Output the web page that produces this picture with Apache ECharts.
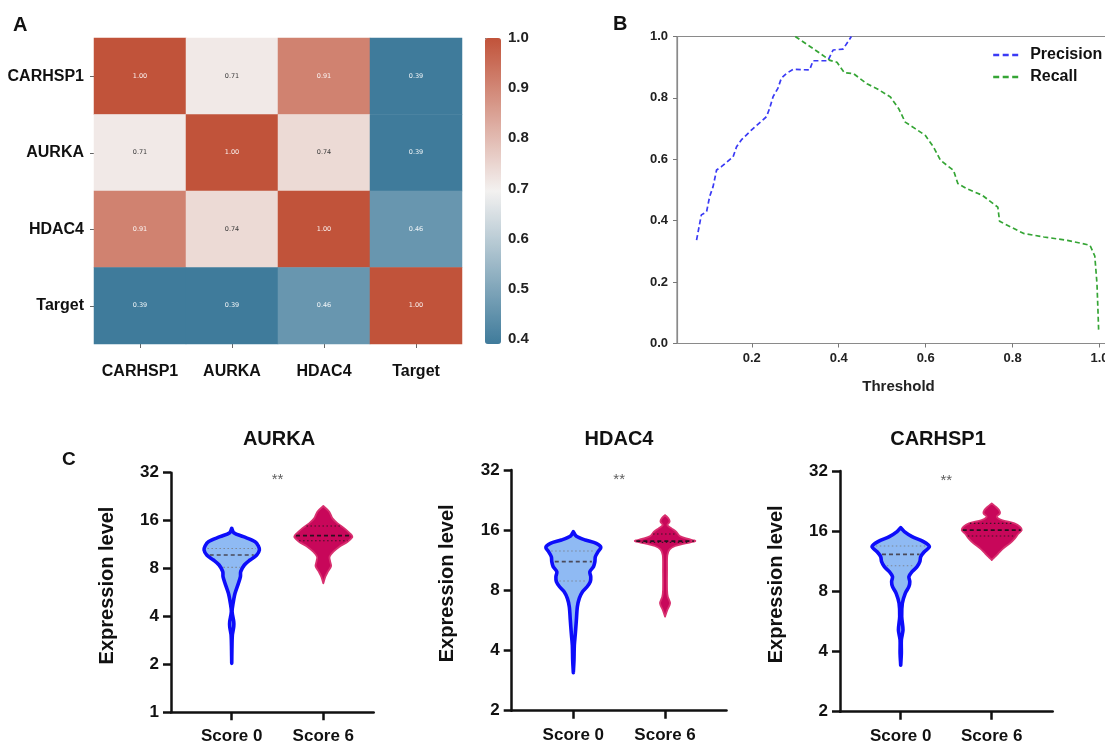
<!DOCTYPE html>
<html><head><meta charset="utf-8">
<script src="https://cdn.jsdelivr.net/npm/echarts@6/dist/echarts.min.js"></script>
<style>html,body{margin:0;padding:0;background:#fff}#c{width:1105px;height:742px}</style>
</head><body><div id="c"></div>
<script>
const FONT = '"Liberation Sans", Arial, Helvetica, sans-serif';

// ---------- Panel A : correlation heatmap ----------
const genes = ['CARHSP1', 'AURKA', 'HDAC4', 'Target'];
const corrCARHSP1 = [1.00, 0.71, 0.91, 0.39];
const corrAURKA   = [0.71, 1.00, 0.74, 0.39];
const corrHDAC4   = [0.91, 0.74, 1.00, 0.46];
const corrTarget  = [0.39, 0.39, 0.46, 1.00];
const corrRows = [corrCARHSP1, corrAURKA, corrHDAC4, corrTarget];
const colorbarTicks = [0.4, 0.5, 0.6, 0.7, 0.8, 0.9, 1.0];

// ---------- Panel B : precision / recall vs threshold ----------
const thresholdTicks = [0.2, 0.4, 0.6, 0.8, 1.0];
const precisionThr = [0.073,0.084,0.096,0.103,0.111,0.119,0.130,0.157,0.165,0.176,0.199,0.234,0.241,0.249,0.260,0.268,0.280,0.295,0.333,0.341,0.375,0.387,0.410,0.429];
const precisionVal = [0.337,0.419,0.429,0.478,0.511,0.565,0.576,0.608,0.641,0.663,0.695,0.739,0.766,0.804,0.831,0.864,0.880,0.893,0.891,0.921,0.921,0.956,0.959,1.000];
const recallThr = [0.300,0.342,0.380,0.396,0.413,0.434,0.465,0.488,0.519,0.538,0.553,0.576,0.599,0.618,0.634,0.664,0.674,0.695,0.730,0.766,0.770,0.795,0.826,0.872,0.926,0.978,0.989,0.994,0.996,0.998];
const recallVal = [1.000,0.960,0.922,0.916,0.882,0.879,0.846,0.830,0.803,0.765,0.721,0.700,0.678,0.640,0.597,0.564,0.521,0.504,0.483,0.444,0.398,0.380,0.358,0.347,0.336,0.320,0.285,0.196,0.120,0.038];

// ---------- Panel C : violin plots (expression level, density half-width) ----------
const violinGenes = ['AURKA', 'HDAC4', 'CARHSP1'];
const groups = ['Score 0', 'Score 6'];
const significance = ['**', '**', '**'];
// [level, half-width] from top to bottom
const aurkaScore0 = [[14.31,0],[13.44,0.022],[12.68,0.127],[11.80,0.255],[11.08,0.291],[10.46,0.302],[9.73,0.273],[9.05,0.200],[8.42,0.138],[7.65,0.098],[7.11,0.095],[6.46,0.073],[5.59,0.036],[4.84,0.015],[4.29,0.004],[3.71,0.022],[3.45,0.022],[3.06,0.007],[2.46,0.002],[2.03,0]];
const aurkaScore6 = [[19.77,0],[18.2,0.065],[16.53,0.10],[15.38,0.155],[14.31,0.23],[13.31,0.29],[12.68,0.318],[11.80,0.265],[10.98,0.175],[10.21,0.11],[9.50,0.068],[8.84,0.075],[8.30,0.085],[7.65,0.05],[7.11,0.022],[6.46,0]];
const hdac4Score0 = [[15.72,0],[14.96,0.03],[14.29,0.13],[13.75,0.25],[13.13,0.30],[12.49,0.27],[11.79,0.24],[11.13,0.235],[10.51,0.22],[9.92,0.18],[9.36,0.19],[8.84,0.185],[8.34,0.15],[7.88,0.10],[7.30,0.065],[6.63,0.044],[5.68,0.033],[4.87,0.022],[4.26,0.011],[3.58,0.007],[3.10,0]];
const hdac4Score6 = [[19.05,0],[18.34,0.036],[17.65,0.05],[16.98,0.025],[16.34,0.07],[15.72,0.12],[14.96,0.16],[14.46,0.25],[14.12,0.33],[13.75,0.22],[13.33,0.11],[12.83,0.05],[12.01,0.025],[10.11,0.022],[8.03,0.022],[7.44,0.03],[6.89,0.055],[6.38,0.025],[5.91,0]];
const carhsp1Score0 = [[16.66,0],[15.91,0.04],[15.02,0.125],[14.18,0.25],[13.38,0.315],[12.63,0.26],[11.93,0.22],[11.26,0.21],[10.63,0.18],[10.03,0.125],[9.47,0.09],[8.94,0.10],[8.44,0.09],[7.82,0.05],[6.97,0.018],[5.98,0.011],[5.12,0.025],[4.57,0.007],[3.92,0.007],[3.42,0]];
const carhsp1Score6 = [[22.05,0],[21.22,0.044],[20.42,0.08],[19.65,0.09],[18.91,0.055],[18.20,0.11],[17.51,0.25],[16.85,0.31],[16.21,0.33],[15.48,0.29],[14.73,0.255],[13.91,0.20],[13.13,0.128],[12.40,0.073],[11.93,0.037],[11.48,0]];
// quartiles [Q1, median, Q3]
const aurkaQuart0 = [8.14, 9.73, 10.7],   aurkaQuart6 = [11.97, 12.87, 14.8];
const hdac4Quart0 = [8.91, 11.13, 12.58], hdac4Quart6 = [13.9, 14.1, 15.3];
const carhsp1Quart0 = [10.75, 12.25, 13.48], carhsp1Quart6 = [15.14, 16.2, 17.5];

const violinProfiles = [[aurkaScore0, aurkaScore6], [hdac4Score0, hdac4Score6], [carhsp1Score0, carhsp1Score6]];
const violinQuarts = [[aurkaQuart0, aurkaQuart6], [hdac4Quart0, hdac4Quart6], [carhsp1Quart0, carhsp1Quart6]];

// ---------- layout / style ----------
const violinLayout = [
  {left: 171, top: 472.7, width: 202.7, height: 239.6, xMin: -0.663, xMax: 1.55, yMin: 1, yMax: 32, titleX: 279, starY: 28.8},
  {left: 511.7, top: 470, width: 214.8, height: 240.7, xMin: -0.672, xMax: 1.67, yMin: 2, yMax: 32, titleX: 619, starY: 28.5},
  {left: 840, top: 471, width: 212.7, height: 240.7, xMin: -0.667, xMax: 1.67, yMin: 2, yMax: 32, titleX: 938, starY: 28.5}
];
const groupStyle = [
  {fill: '#8fbaf3', stroke: '#0d0dfa', lw: 3.6, median: '#4a4a5a', quart: '#7d8796'},
  {fill: '#c8075a', stroke: '#d8306f', lw: 1.8, median: '#2a1020', quart: '#3a1525'}
];

function halfWidthAt(prof, q) {
  for (let i = 0; i < prof.length - 1; i++) {
    const a = prof[i], b = prof[i + 1];
    if (q <= a[0] && q >= b[0]) {
      const t = (Math.log(a[0]) - Math.log(q)) / (Math.log(a[0]) - Math.log(b[0]));
      return a[1] + (b[1] - a[1]) * t;
    }
  }
  return 0;
}

function makeRender(vi) {
  return function (params, api) {
    const g = api.value(0);
    const prof = violinProfiles[vi][g];
    const st = groupStyle[g];
    const right = prof.map(p => api.coord([g + p[1], p[0]]));
    const left = prof.slice().reverse().map(p => api.coord([g - p[1], p[0]]));
    const children = [{
      type: 'polygon',
      shape: {points: right.concat(left), smooth: 0.3},
      style: {fill: st.fill, stroke: st.stroke, lineWidth: st.lw, lineJoin: 'round'}
    }];
    violinQuarts[vi][g].forEach((q, i) => {
      const hw = halfWidthAt(prof, q);
      const a = api.coord([g - hw, q]), b = api.coord([g + hw, q]);
      const inset = g === 0 ? 3 : 1;
      children.push({
        type: 'line',
        shape: {x1: a[0] + inset, y1: a[1], x2: b[0] - inset, y2: b[1]},
        style: {stroke: i === 1 ? st.median : st.quart, lineWidth: i === 1 ? 1.7 : 1.1, lineDash: i === 1 ? [4, 3] : [1.5, 2.5]}
      });
    });
    return {type: 'group', children};
  };
}

const boldText = (size, color) => ({fontFamily: FONT, fontWeight: 'bold', fontSize: size, color: color || '#111'});

// heatmap data
const heatData = [];
corrRows.forEach((row, r) => row.forEach((v, c) => {
  const dark = v < 0.55 || v > 0.85;
  heatData.push({value: [c, r, v], label: {color: dark ? 'rgba(255,255,255,0.92)' : '#3a3a3a'}});
}));

const grids = [
  {left: 94, top: 38, width: 368, height: 306, outerBoundsMode: 'none'},
  {left: 485, top: 38, width: 16, height: 306, outerBoundsMode: 'none'},
  {left: 677, top: 36.5, width: 443, height: 307, show: true, borderColor: '#8a8a8a', borderWidth: 1.2, outerBoundsMode: 'none'}
];
violinLayout.forEach(l => grids.push({left: l.left, top: l.top, width: l.width, height: l.height, outerBoundsMode: 'none'}));

const xAxes = [
  {gridIndex: 0, type: 'category', data: genes, axisLine: {show: false},
   axisTick: {show: true, alignWithLabel: true, length: 4, lineStyle: {color: '#666'}},
   axisLabel: Object.assign({margin: 20, interval: 0}, boldText(16))},
  {gridIndex: 1, type: 'value', show: false, min: 0, max: 1},
  {gridIndex: 2, type: 'value', min: 0.028, max: 1.047, splitLine: {show: false},
   axisLine: {onZero: false, lineStyle: {color: '#8a8a8a', width: 1.2}},
   axisTick: {length: 4, lineStyle: {color: '#777'}, customValues: thresholdTicks},
   axisLabel: Object.assign({margin: 8, customValues: thresholdTicks, formatter: v => v.toFixed(1)}, boldText(13, '#222')),
   name: 'Threshold', nameLocation: 'middle', nameGap: 36, nameTextStyle: boldText(15, '#222')}
];
const yAxes = [
  {gridIndex: 0, type: 'category', data: genes, inverse: true, axisLine: {show: false},
   axisTick: {show: true, alignWithLabel: true, length: 4, lineStyle: {color: '#666'}},
   axisLabel: Object.assign({margin: 10, interval: 0}, boldText(16))},
  {gridIndex: 1, type: 'value', position: 'right', min: 0.39, max: 1.0, splitLine: {show: false},
   axisLine: {show: false},
   axisTick: {show: true, length: 3, lineStyle: {color: '#777'}, customValues: colorbarTicks},
   axisLabel: Object.assign({margin: 7, customValues: colorbarTicks, formatter: v => v.toFixed(1)}, boldText(15, '#222'))},
  {gridIndex: 2, type: 'value', min: 0, max: 1, interval: 0.2, splitLine: {show: false},
   axisLine: {show: true, onZero: false, lineStyle: {color: '#8a8a8a', width: 1.2}},
   axisTick: {show: true, length: 4, lineStyle: {color: '#777'}},
   axisLabel: Object.assign({margin: 9, formatter: v => v.toFixed(1)}, boldText(13, '#222'))}
];
violinLayout.forEach((l, i) => {
  xAxes.push({gridIndex: 3 + i, type: 'value', min: l.xMin, max: l.xMax, splitLine: {show: false},
    axisLine: {onZero: false, lineStyle: {color: '#111', width: 2.5}},
    axisTick: {length: 8, lineStyle: {color: '#111', width: 2.5}, customValues: [0, 1]},
    axisLabel: Object.assign({margin: 16, customValues: [0, 1], formatter: v => groups[Math.round(v)]}, boldText(17))});
  yAxes.push({gridIndex: 3 + i, type: 'log', logBase: 2, min: l.yMin, max: l.yMax, splitLine: {show: false},
    axisLine: {show: true, onZero: false, lineStyle: {color: '#111', width: 2.5}},
    axisTick: {show: true, length: 8, lineStyle: {color: '#111', width: 2.5}},
    axisLabel: Object.assign({margin: 12}, boldText(17)),
    name: 'Expression level', nameLocation: 'middle', nameGap: 54, nameRotate: 90,
    nameTextStyle: Object.assign({padding: [0, 0, 0, 14]}, boldText(20))});
});

const series = [
  {type: 'heatmap', xAxisIndex: 0, yAxisIndex: 0, data: heatData,
   itemStyle: {borderWidth: 0},
   label: {show: true, fontSize: 6.5, fontFamily: '"DejaVu Sans", sans-serif', formatter: p => p.value[2].toFixed(2)},
   emphasis: {disabled: true}},
  {name: 'Precision', type: 'line', xAxisIndex: 2, yAxisIndex: 2, symbol: 'none', showSymbol: false,
   data: precisionThr.map((t, i) => [t, precisionVal[i]]),
   lineStyle: {color: '#3a3af5', width: 1.7, type: [5, 3]}, itemStyle: {color: '#3a3af5'}},
  {name: 'Recall', type: 'line', xAxisIndex: 2, yAxisIndex: 2, symbol: 'none', showSymbol: false,
   data: recallThr.map((t, i) => [t, recallVal[i]]),
   lineStyle: {color: '#35a535', width: 1.7, type: [5, 3]}, itemStyle: {color: '#35a535'}}
];
violinLayout.forEach((l, i) => {
  series.push({type: 'custom', xAxisIndex: 3 + i, yAxisIndex: 3 + i, renderItem: makeRender(i),
    data: [[0, violinQuarts[i][0][1]], [1, violinQuarts[i][1][1]]], encode: {x: 0, y: 1}, clip: false});
  series.push({type: 'scatter', xAxisIndex: 3 + i, yAxisIndex: 3 + i, symbolSize: 1,
    itemStyle: {color: 'rgba(0,0,0,0)'}, data: [[0.5, l.starY]],
    label: {show: true, position: 'inside', formatter: significance[i], fontFamily: FONT, fontSize: 15, color: '#333'}});
});

const titles = [
  {text: 'A', left: 13, top: 15, padding: 0, textStyle: boldText(20)},
  {text: 'B', left: 613, top: 14, padding: 0, textStyle: boldText(20)},
  {text: 'C', left: 62, top: 450, padding: 0, textStyle: boldText(19)}
];
violinLayout.forEach((l, i) => titles.push({text: violinGenes[i], left: l.titleX, top: 429, padding: 0, textAlign: 'center', textStyle: boldText(20)}));

const chart = echarts.init(document.getElementById('c'), null, {renderer: 'canvas'});
chart.setOption({
  animation: false,
  backgroundColor: '#fff',
  title: titles,
  grid: grids,
  xAxis: xAxes,
  yAxis: yAxes,
  visualMap: {type: 'continuous', seriesIndex: 0, dimension: 2, min: 0.39, max: 1.0, calculable: false,
    orient: 'vertical', left: 485, top: 38, itemWidth: 16, itemHeight: 306, padding: 0, text: null,
    inRange: {color: ['#3f7b9b', '#f3f1f0', '#c1533a']}, hoverLink: false},
  legend: {data: ['Precision', 'Recall'], orient: 'vertical', left: 992, top: 47, padding: 0,
    itemWidth: 25, itemHeight: 14, itemGap: 6,
    itemStyle: {color: 'rgba(0,0,0,0)', borderColor: 'rgba(0,0,0,0)', borderWidth: 0},
    lineStyle: {width: 2.4, type: [6, 3.5]},
    textStyle: Object.assign({padding: [0, 0, 0, 7]}, boldText(16, '#111'))},
  series: series
});
</script></body></html>
